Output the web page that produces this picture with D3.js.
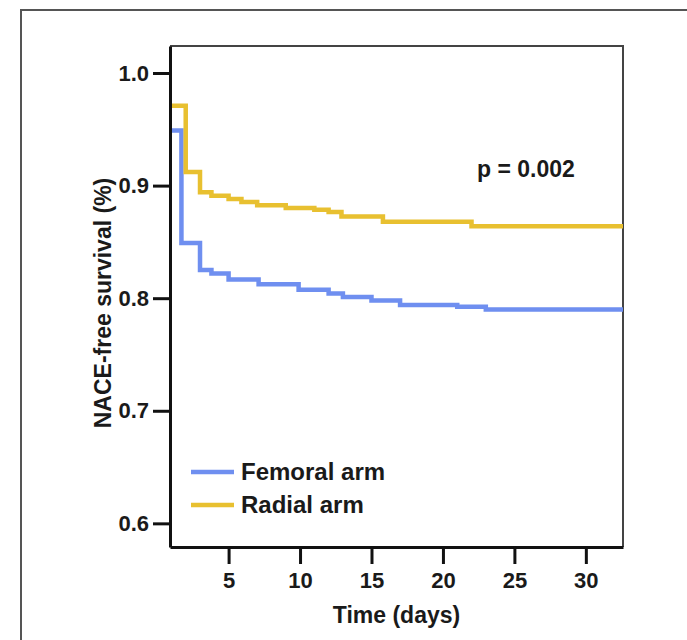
<!DOCTYPE html>
<html>
<head>
<meta charset="utf-8">
<script src="https://cdn.jsdelivr.net/npm/d3@7"></script>
<style>
  body { margin: 0; background: #fff; }
  svg text { font-family: "Liberation Sans", Arial, sans-serif; font-weight: bold; fill: #1a1a1a; }
</style>
</head>
<body>
<div id="chart"></div>
<script>
// Kaplan-Meier steps (time in days, survival after that time)
const femoralTimes = [0.9, 1.7, 3.0, 3.8, 5.0, 7.1, 9.9, 12.0, 13.0, 15.0, 17.0, 21.0, 23.0, 32.6];
const femoralSurv  = [0.949, 0.849, 0.825, 0.822, 0.8166, 0.8124, 0.8075, 0.8042, 0.801, 0.798, 0.794, 0.7925, 0.790, 0.790];
const radialTimes  = [0.9, 2.0, 3.0, 3.8, 5.0, 5.9, 7.0, 9.0, 11.0, 12.0, 12.9, 15.8, 22.0, 32.6];
const radialSurv   = [0.971, 0.912, 0.894, 0.891, 0.888, 0.8855, 0.8826, 0.880, 0.8785, 0.8765, 0.8725, 0.868, 0.864, 0.864];

const xTicks = [5, 10, 15, 20, 25, 30];
const yTicks = [0.6, 0.7, 0.8, 0.9, 1.0];
const seriesNames = ["Femoral arm", "Radial arm"];
const colors = ["#6f8ff0", "#e8c030"];

const W = 687, H = 640;
const margin = { top: 46, right: 64, bottom: 93, left: 170 };
const width = W - margin.left - margin.right,
      height = H - margin.top - margin.bottom;

const svg = d3.select("#chart").append("svg")
    .attr("width", W)
    .attr("height", H);

// outer frame (left + top only)
svg.append("path")
    .attr("d", `M21,${H} L21,10 L${W},10`)
    .attr("fill", "none")
    .attr("stroke", "#555")
    .attr("stroke-width", 2);

const g = svg.append("g")
    .attr("transform", `translate(${margin.left},${margin.top})`);

const x = d3.scaleLinear().domain([0.9, 32.6]).range([0, width]);
const y = d3.scaleLinear().domain([0.579, 1.024]).range([height, 0]);

// top and right box lines
g.append("path")
    .attr("d", `M0,0 L${width},0 L${width},${height}`)
    .attr("fill", "none")
    .attr("stroke", "#444")
    .attr("stroke-width", 2);

const line = d3.line()
    .x(d => x(d[0]))
    .y(d => y(d[1]))
    .curve(d3.curveStepAfter);

const femoral = femoralTimes.map((t, i) => [t, femoralSurv[i]]);
const radial = radialTimes.map((t, i) => [t, radialSurv[i]]);

[femoral, radial].forEach((s, i) => {
    g.append("path")
        .datum(s)
        .attr("d", line)
        .attr("fill", "none")
        .attr("stroke", colors[i])
        .attr("stroke-width", 4.5);
});

const xAxis = g.append("g")
    .attr("transform", `translate(0,${height})`)
    .call(d3.axisBottom(x).tickValues(xTicks).tickSize(17).tickSizeOuter(0).tickPadding(8));

const yAxis = g.append("g")
    .call(d3.axisLeft(y).tickValues(yTicks).tickFormat(d3.format(".1f")).tickSize(17).tickSizeOuter(0).tickPadding(4));

[xAxis, yAxis].forEach(a => {
    a.selectAll("path, line").attr("stroke", "#111").attr("stroke-width", 3);
    a.selectAll("text").style("font-size", "22px").attr("fill", "#1a1a1a");
});

// axis titles
g.append("text")
    .attr("x", width / 2)
    .attr("y", height + 76)
    .attr("text-anchor", "middle")
    .style("font-size", "23px")
    .text("Time (days)");

g.append("text")
    .attr("transform", `translate(${103 - margin.left},${303 - margin.top}) rotate(-90)`)
    .attr("text-anchor", "middle")
    .attr("dy", "0.35em")
    .style("font-size", "23px")
    .text("NACE-free survival (%)");

g.append("text")
    .attr("x", 477 - margin.left)
    .attr("y", 177 - margin.top)
    .style("font-size", "23px")
    .text("p = 0.002");

// legend
const legend = g.append("g")
    .attr("transform", `translate(${191 - margin.left},${472 - margin.top})`);

seriesNames.forEach((name, i) => {
    legend.append("line")
        .attr("x1", 0).attr("x2", 43)
        .attr("y1", i * 33).attr("y2", i * 33)
        .attr("stroke", colors[i])
        .attr("stroke-width", 4.5);
    legend.append("text")
        .attr("x", 50)
        .attr("y", i * 33)
        .attr("dy", "0.35em")
        .style("font-size", "24px")
        .text(name);
});
</script>
</body>
</html>
